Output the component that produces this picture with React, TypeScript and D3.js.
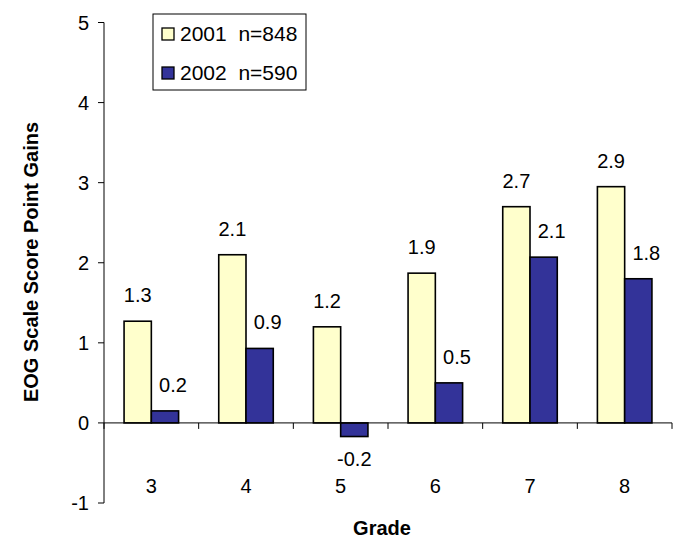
import React from "react";
import * as d3 from "d3";

const grades = ["3", "4", "5", "6", "7", "8"];
const values2001 = [1.27, 2.1, 1.2, 1.87, 2.7, 2.95];
const values2002 = [0.15, 0.93, -0.17, 0.5, 2.07, 1.8];
const labels2001 = ["1.3", "2.1", "1.2", "1.9", "2.7", "2.9"];
const labels2002 = ["0.2", "0.9", "-0.2", "0.5", "2.1", "1.8"];
const yTicks = [-1, 0, 1, 2, 3, 4, 5];
const seriesNames = ["2001  n=848", "2002  n=590"];
const colors = ["#FFFFCC", "#333399"];

const W = 673;
const H = 538;
const FONT = "'Liberation Sans', Arial, sans-serif";

export default function App() {
  const x = d3.scaleBand<string>().domain(grades).range([104, 672]).padding(0);
  const y = d3.scaleLinear().domain([-1, 5]).range([503, 22.5]);
  const bw = x.bandwidth();
  const barW = bw * 0.288;
  const off = (bw - 2 * barW) / 2;
  const y0 = y(0);
  const boundaries = d3.range(grades.length + 1).map((i) => 104 + i * bw);

  const series = [values2001, values2002];
  const labels = [labels2001, labels2002];

  return (
    <svg
      width={W}
      height={H}
      style={{ position: "absolute", left: 0, top: 0, background: "#fff" }}
      fontFamily={FONT}
    >
      {series.map((vals, si) =>
        vals.map((v, i) => {
          const bx = (x(grades[i]) as number) + off + si * barW;
          const top = Math.min(y(v), y0);
          const h = Math.abs(y(v) - y0);
          return (
            <rect
              key={`b${si}-${i}`}
              x={bx}
              y={top}
              width={barW}
              height={h}
              fill={colors[si]}
              stroke="#000"
              strokeWidth={1.6}
            />
          );
        })
      )}
      {series.map((vals, si) =>
        vals.map((v, i) => {
          const bx = (x(grades[i]) as number) + off + si * barW + barW / 2;
          const neg = v < 0;
          const lx = bx + (si === 1 && !neg ? 8 : 0);
          const ly = neg ? y(v) + 29 : y(v) - 19;
          return (
            <text
              key={`l${si}-${i}`}
              x={lx}
              y={ly}
              textAnchor="middle"
              fontSize={20}
              fill="#000"
            >
              {labels[si][i]}
            </text>
          );
        })
      )}
      <line x1={104} x2={672} y1={y0} y2={y0} stroke="#000" strokeWidth={1} />
      {boundaries.map((bx, i) => (
        <line key={`xt${i}`} x1={bx} x2={bx} y1={y0} y2={y0 + 6} stroke="#000" strokeWidth={1} />
      ))}
      {grades.map((g) => (
        <text
          key={`xl${g}`}
          x={(x(g) as number) + bw / 2}
          y={493}
          textAnchor="middle"
          fontSize={20}
        >
          {g}
        </text>
      ))}
      <line x1={104} x2={104} y1={y(5)} y2={y(-1)} stroke="#000" strokeWidth={1} />
      {yTicks.map((t) => (
        <g key={`yt${t}`}>
          <line x1={98} x2={104} y1={y(t)} y2={y(t)} stroke="#000" strokeWidth={1} />
          <text x={89} y={y(t) + 7} textAnchor="end" fontSize={20}>
            {t}
          </text>
        </g>
      ))}
      <text
        transform={`translate(38,262) rotate(-90)`}
        textAnchor="middle"
        fontSize={20}
        fontWeight="bold"
      >
        EOG Scale Score Point Gains
      </text>
      <text x={382} y={535} textAnchor="middle" fontSize={20} fontWeight="bold">
        Grade
      </text>
      <rect x={153} y={14} width={153} height={76} fill="#fff" stroke="#000" strokeWidth={1} />
      {seriesNames.map((name, i) => (
        <g key={`lg${i}`}>
          <rect
            x={162}
            y={28 + i * 39}
            width={12}
            height={12}
            fill={colors[i]}
            stroke="#000"
            strokeWidth={1.3}
          />
          <text x={180} y={40.5 + i * 39} fontSize={21} style={{ whiteSpace: "pre" }}>
            {name}
          </text>
        </g>
      ))}
    </svg>
  );
}
